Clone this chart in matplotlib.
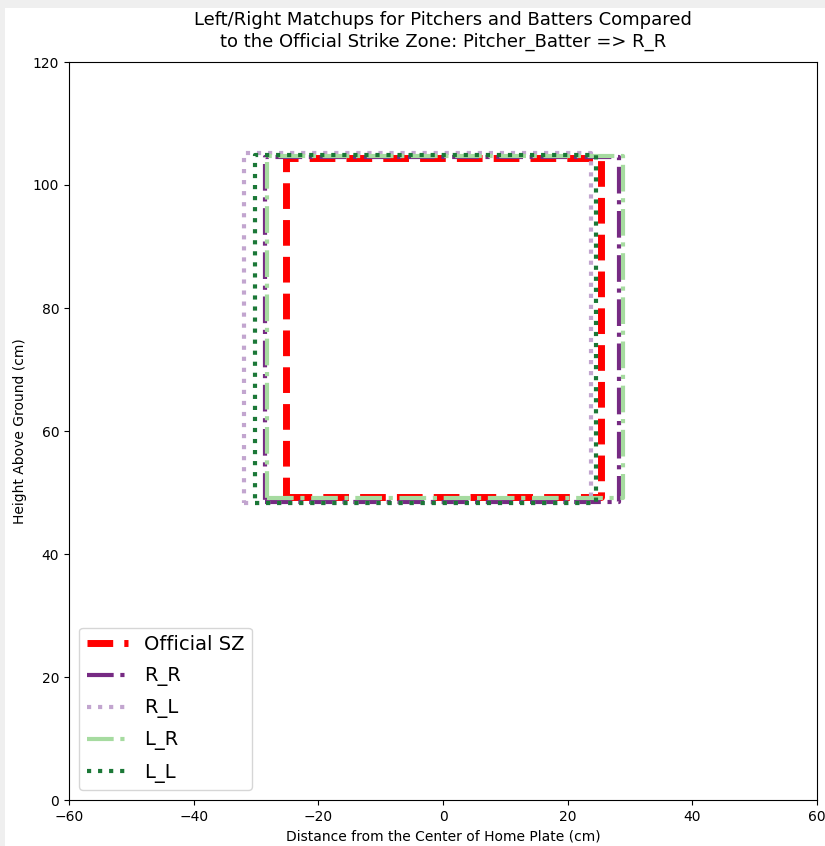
import numpy as np
import matplotlib.pyplot as plt
from matplotlib.patches import Rectangle

# zone edges (cm): left, right, bottom, top
labels = ['Official SZ', 'R_R', 'R_L', 'L_R', 'L_L']
left = [-25.2, -28.5, -31.9, -28.2, -30.2]
right = [25.4, 28.2, 23.7, 28.9, 24.6]
bottom = [49.3, 48.5, 48.3, 49.1, 48.3]
top = [104.4, 104.5, 105.2, 104.7, 104.9]

colors = ['red', '#762a83', '#c2a5cf', '#a6dba0', '#1b7837']
styles = ['--', '-.', ':', '-.', ':']
widths = [5, 3, 3, 3, 3]

fig = plt.figure(figsize=(8.25, 8.46), dpi=100)
fig.patch.set_facecolor('#efefef')
fig.patches.append(Rectangle((5 / 825, 0), 1, 1 - 8 / 846, transform=fig.transFigure,
                             facecolor='white', edgecolor='none', zorder=-10))
ax = fig.add_axes([69 / 825, 1 - 800 / 846, 748 / 825, 738 / 846])

for i in range(len(labels)):
    xs = [left[i], right[i], right[i], left[i], left[i]]
    ys = [bottom[i], bottom[i], top[i], top[i], bottom[i]]
    ax.plot(xs, ys, linestyle=styles[i], color=colors[i], linewidth=widths[i], label=labels[i])

ax.set_xlim(-60, 60)
ax.set_ylim(0, 120)
ax.set_xlabel('Distance from the Center of Home Plate (cm)')
ax.set_ylabel('Height Above Ground (cm)')
ax.set_title('Left/Right Matchups for Pitchers and Batters Compared\nto the Official Strike Zone: Pitcher_Batter => R_R',
             fontsize=13, pad=11, linespacing=1.3)
ax.legend(loc='lower left', fontsize=14, labelspacing=0.62, handlelength=2.14)

fig.savefig('out.png', dpi=100, facecolor=fig.get_facecolor())
